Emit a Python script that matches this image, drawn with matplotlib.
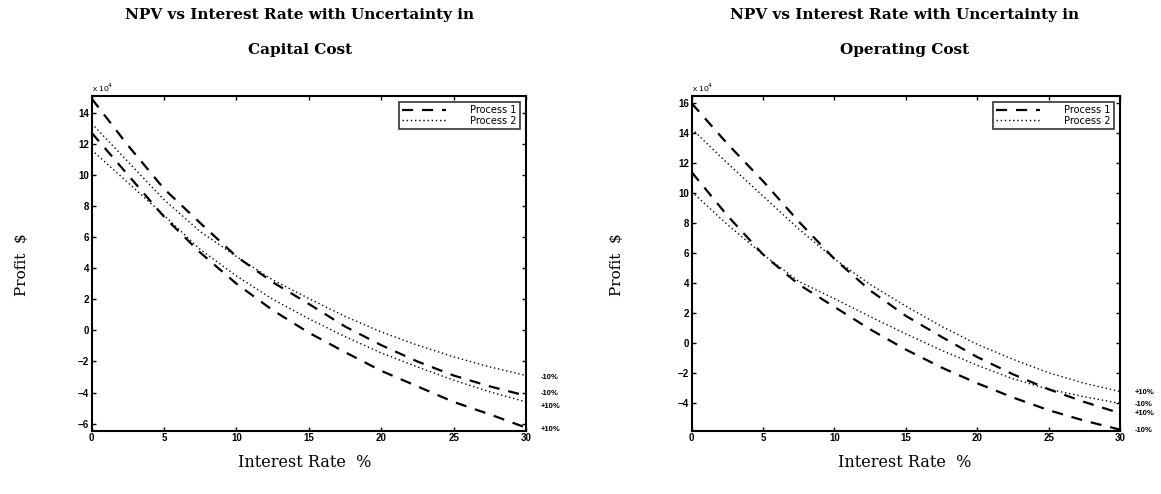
import matplotlib
matplotlib.use("Agg")
import matplotlib.pyplot as plt

# interest rate, %
rate = [0, 2.5, 5, 7.5, 10, 12.5, 15, 17.5, 20, 22.5, 25, 27.5, 30]

# capital cost uncertainty (profit in units of 1e4 $)
cap_p1_minus = [14.9, 11.9, 9.1, 6.9, 4.75, 3.1, 1.7, 0.25, -0.95, -2.0, -2.9, -3.6, -4.2]
cap_p1_plus = [12.7, 10.0, 7.3, 5.0, 3.0, 1.3, -0.15, -1.4, -2.6, -3.6, -4.6, -5.4, -6.25]
cap_p2_minus = [13.3, 10.85, 8.4, 6.35, 4.75, 3.25, 2.05, 0.9, -0.1, -0.95, -1.7, -2.35, -2.9]
cap_p2_plus = [11.6, 9.5, 7.4, 5.2, 3.5, 2.0, 0.75, -0.4, -1.45, -2.35, -3.2, -3.95, -4.6]

# operating cost uncertainty
op_p1_plus = [16.0, 13.3, 10.8, 8.1, 5.6, 3.5, 1.8, 0.4, -0.95, -2.1, -3.1, -3.95, -4.7]
op_p1_minus = [11.4, 8.5, 5.9, 3.9, 2.4, 0.9, -0.45, -1.65, -2.7, -3.65, -4.5, -5.2, -5.8]
op_p2_plus = [14.3, 12.0, 9.8, 7.6, 5.6, 3.9, 2.45, 1.1, -0.1, -1.1, -2.0, -2.7, -3.25]
op_p2_minus = [10.1, 7.9, 5.9, 4.1, 2.95, 1.75, 0.6, -0.5, -1.5, -2.4, -3.1, -3.6, -4.05]

cap_tags = ["-10%", "-10%", "+10%", "+10%"]
cap_tag_y = [-3.0, -4.05, -4.9, -6.4]
op_tags = ["+10%", "-10%", "+10%", "-10%"]
op_tag_y = [-3.3, -4.1, -4.75, -5.85]

fig = plt.figure(figsize=(11.61, 4.94), dpi=100)

serif = "DejaVu Serif"
tickfont = {"family": "Liberation Sans", "weight": "bold", "size": 7}


def panel(rect, p1a, p1b, p2a, p2b, ylim, yticks, title2, tags, tag_y, title_x, xlab_x):
    ax = fig.add_axes(rect)
    ax.plot(rate, p1a, color="k", ls=(0, (5, 4)), lw=1.6, label="Process 1")
    ax.plot(rate, p2a, color="k", ls=(0, (1, 2)), lw=1.0, label="Process 2")
    ax.plot(rate, p1b, color="k", ls=(0, (5, 4)), lw=1.6)
    ax.plot(rate, p2b, color="k", ls=(0, (1, 2)), lw=1.0)
    ax.set_xlim(0, 30)
    ax.set_ylim(*ylim)
    ax.set_xticks([0, 5, 10, 15, 20, 25, 30])
    ax.set_yticks(yticks)
    ax.tick_params(direction="in", top=True, right=True, length=3, width=1, pad=2)
    for lab in ax.get_xticklabels() + ax.get_yticklabels():
        lab.set_fontproperties(matplotlib.font_manager.FontProperties(**tickfont))
    for sp in ax.spines.values():
        sp.set_linewidth(1.5)
    ax.text(0, 1.005, "x 10$^4$", transform=ax.transAxes, fontsize=6,
            ha="left", va="bottom", family="Liberation Sans")
    leg = ax.legend(loc="upper right", fontsize=7, frameon=True, fancybox=False,
                    edgecolor="k", handlelength=4.5, handletextpad=2.5,
                    borderaxespad=0.6, borderpad=0.35, labelspacing=0.05)
    leg.get_frame().set_linewidth(1.2)
    for t, y in zip(tags, tag_y):
        ax.text(1.035, y, t, transform=ax.get_yaxis_transform(), fontsize=5.5,
                family="Liberation Sans", weight="bold", ha="left", va="center")
    fig.text(title_x, 1 - 15 / 494, "NPV vs Interest Rate with Uncertainty in",
             family=serif, weight="bold", fontsize=11, ha="center", va="center")
    fig.text(title_x, 1 - 50 / 494, title2,
             family=serif, weight="bold", fontsize=11, ha="center", va="center")
    fig.text(xlab_x, 1 - 462 / 494, "Interest Rate  %", family=serif,
             fontsize=11.5, ha="center", va="center")
    return ax


panel([91.7 / 1161, 63.3 / 494, 434.3 / 1161, 334.7 / 494],
      cap_p1_minus, cap_p1_plus, cap_p2_minus, cap_p2_plus,
      (-6.45, 15.07), range(-6, 15, 2), "Capital Cost",
      cap_tags, cap_tag_y, 300 / 1161, 305 / 1161)
fig.text(22 / 1161, 1 - 265 / 494, "Profit  $", family=serif, fontsize=11,
         rotation=90, ha="center", va="center")

panel([691.7 / 1161, 63.3 / 494, 428.3 / 1161, 334.7 / 494],
      op_p1_plus, op_p1_minus, op_p2_plus, op_p2_minus,
      (-5.87, 16.49), range(-4, 17, 2), "Operating Cost",
      op_tags, op_tag_y, 905 / 1161, 905 / 1161)
fig.text(617 / 1161, 1 - 265 / 494, "Profit  $", family=serif, fontsize=11,
         rotation=90, ha="center", va="center")

fig.savefig("out.png", dpi=100)
